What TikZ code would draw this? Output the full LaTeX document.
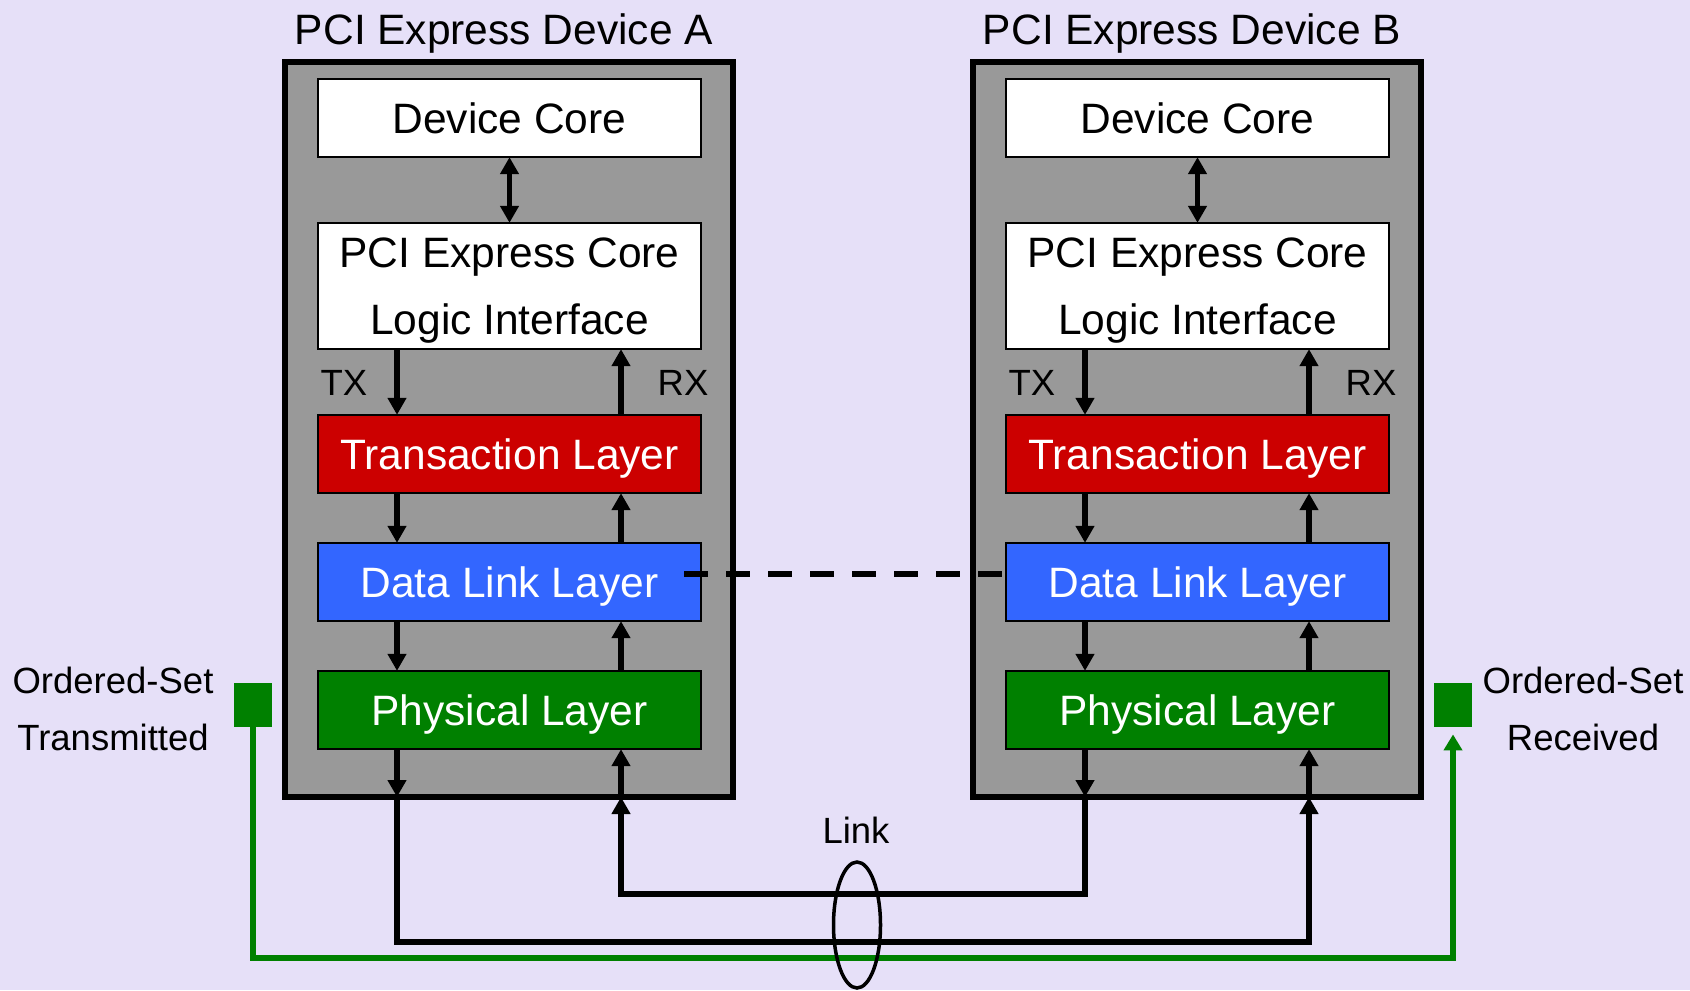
\documentclass[tikz,border=0pt]{standalone}
\usepackage{fontspec}
\setmainfont{Liberation Sans}
\usetikzlibrary{positioning}
\usetikzlibrary{arrows.meta}
\usetikzlibrary{calc}

\definecolor{bglav}{RGB}{230,224,248}
\definecolor{devgrey}{RGB}{153,153,153}
\definecolor{tlred}{RGB}{204,0,0}
\definecolor{dlblue}{RGB}{51,102,255}
\definecolor{phgreen}{RGB}{0,128,0}

\tikzset{
    devbox/.style={draw, fill=devgrey, line width=2.75pt, outer sep=0pt,
        minimum width=224pt, minimum height=367.5pt},
    box/.style={draw, line width=0.85pt, inner sep=0pt, outer sep=0pt,
        minimum width=191.6pt, font=\fontsize{21.25}{33.5}\selectfont},
    layer/.style={box, minimum height=39.15pt, text height=15.2pt, text depth=0pt},
    title/.style={anchor=base, inner sep=0pt, font=\fontsize{21.25}{25}\selectfont},
    small/.style={inner sep=0pt, font=\fontsize{18.25}{28.5}\selectfont},
    wire/.style={line width=2.75pt},
    arr/.style={wire, -{Triangle[length=8.5pt,width=9pt]}},
    darr/.style={wire, {Triangle[length=8.5pt,width=9pt]}-{Triangle[length=8.5pt,width=9pt]}},
    osbox/.style={fill=phgreen, minimum width=19pt, minimum height=22pt, inner sep=0pt},
    osline/.style={draw=phgreen, line width=2.75pt},
}

\begin{document}
\begin{tikzpicture}[x=0.5pt, y=-0.5pt]
    \fill[bglav] (0,0) rectangle (1690,990);
    \useasboundingbox (0,0) rectangle (1690,990);

    % the two devices
    \foreach \dv/\dx in {A/0,B/688} {
        \node[devbox] (dev\dv) at (509+\dx, 429.5) {};
        \node[title] (title\dv) at (504+\dx, 45) {PCI Express Device \dv};
        \node[layer, fill=white] (core\dv) at (509.5+\dx, 118) {Device Core};
        \node[box, fill=white, minimum height=63.15pt, align=center, text depth=0pt] (pcie\dv) at (509.5+\dx, 286) {PCI Express Core\\Logic Interface};
        \node[layer, fill=tlred, text=white] (trans\dv) at (509.5+\dx, 454) {Transaction Layer};
        \node[layer, fill=dlblue, text=white] (dll\dv) at (509.5+\dx, 582) {Data Link Layer};
        \node[layer, fill=phgreen, text=white] (phys\dv) at (509.5+\dx, 710) {Physical Layer};
        \coordinate (tx\dv) at (397+\dx, 0);
        \coordinate (rx\dv) at (621+\dx, 0);
        \node[small, anchor=base] (txlabel\dv) at (344+\dx, 395) {TX};
        \node[small, anchor=base] (rxlabel\dv) at (683+\dx, 395) {RX};

        \draw[darr] (core\dv) -- (pcie\dv);
        \foreach \a/\b in {pcie/trans, trans/dll, dll/phys} {
            \draw[arr] (\a\dv.south -| tx\dv) -- (\b\dv.north -| tx\dv);
            \draw[arr] (\b\dv.north -| rx\dv) -- (\a\dv.south -| rx\dv);
        }
        \draw[arr] (phys\dv.south -| tx\dv) -- (dev\dv.south -| tx\dv);
        \draw[arr] (dev\dv.south -| rx\dv) -- (phys\dv.south -| rx\dv);
    }

    % link wires
    \coordinate (lowTX) at (0,942);
    \coordinate (lowRX) at (0,894);
    \draw[arr] (devA.south -| txA) |- (lowTX -| rxB) -- (devB.south -| rxB);
    \draw[arr] (devB.south -| txB) |- (lowRX -| rxA) -- (devA.south -| rxA);

    % ordered sets
    \node[osbox] (osTX) at (253, 705) {};
    \node[osbox] (osRX) at (1453, 705) {};
    \node[small, align=center, anchor=north] (osTXlabel) at (113, 667) {Ordered-Set\\Transmitted};
    \node[small, align=center, anchor=north] (osRXlabel) at (1583, 667) {Ordered-Set\\Received};
    \coordinate (lowOS) at (0,958);
    \draw[osline, -{Triangle[length=8pt,width=9pt]}] (osTX.south) |- (lowOS -| osRX) -- ([yshift=-3.5pt]osRX.south);

    % data link peers
    \draw[wire, line width=3pt, dash pattern=on 12pt off 9pt] ([xshift=-8.5pt, yshift=4pt]dllA.east) -- ([yshift=4pt]dllB.west);

    \draw[line width=1.75pt] (857,925) ellipse [x radius=23.5, y radius=63];
    \node[small, anchor=base] (linklabel) at (856, 843) {Link};
\end{tikzpicture}
\end{document}
